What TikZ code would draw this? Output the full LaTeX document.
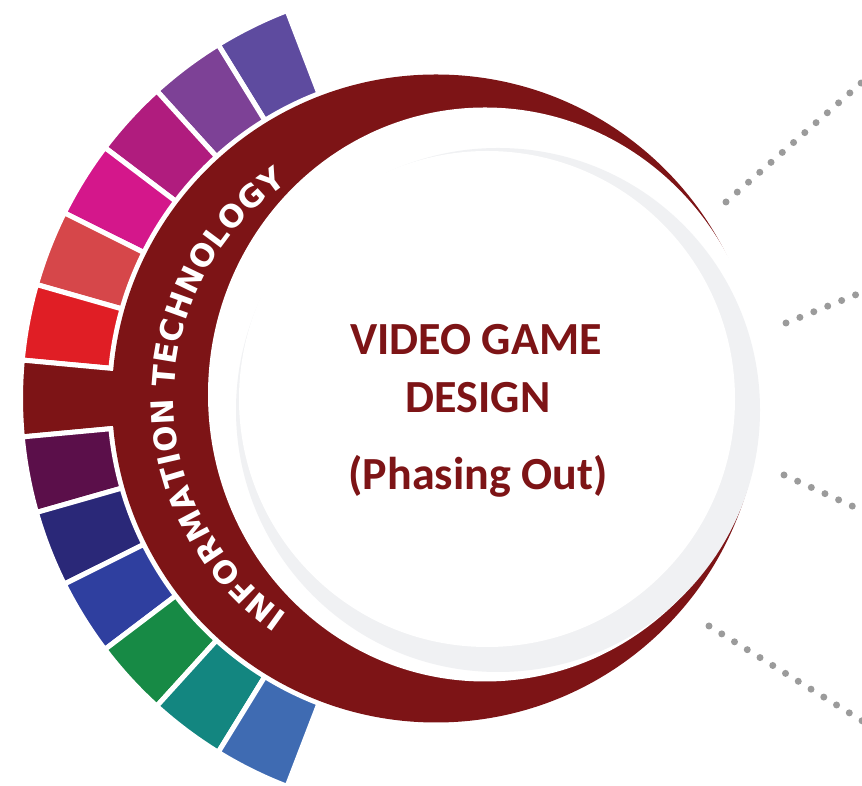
\documentclass[tikz,border=0pt]{standalone}
\usepackage{fontspec}
\newfontfamily\ringfont{DejaVu Sans}
\newfontfamily\titlefont{Carlito}
\newcommand\ringstyle{\ringfont\bfseries\fontsize{31}{31}\selectfont}

\definecolor{ringred}{HTML}{7D1416}
\definecolor{rimgray}{HTML}{F0F1F3}
\definecolor{dotgray}{HTML}{9B9B9B}
\definecolor{segA}{HTML}{5E4B9F}
\definecolor{segB}{HTML}{7D4196}
\definecolor{segC}{HTML}{B01C7E}
\definecolor{segD}{HTML}{D4178B}
\definecolor{segE}{HTML}{D6474A}
\definecolor{segF}{HTML}{E01E25}
\definecolor{segG}{HTML}{7D1416}
\definecolor{segH}{HTML}{5B0F4A}
\definecolor{segI}{HTML}{2A2878}
\definecolor{segJ}{HTML}{2F3F9F}
\definecolor{segK}{HTML}{178A45}
\definecolor{segL}{HTML}{138680}
\definecolor{segM}{HTML}{3F6BB2}

\tikzset{
  segment/.style={fill=#1, draw=white, line width=5pt},
  dots/.style={draw=dotgray, line width=7pt, line cap=round, dash pattern=on 0pt off 15pt},
  title/.style={text=ringred, anchor=base, font=\titlefont\bfseries\fontsize{46}{50}\selectfont},
  ringchar/.style={text=white, anchor=base, inner sep=0pt, font=\ringstyle},
}

\begin{document}
\begin{tikzpicture}[x=1pt, y=1pt]
\useasboundingbox (0,0) rectangle (862,786);
\clip (0,0) rectangle (862,786);

\coordinate (ctr) at (436,387.5);
\coordinate (cut) at (485,391.5);
\coordinate (rim) at (498,376);
\coordinate (core) at (487,387);

% coloured blocks round the ring
\begin{scope}[shift={(ctr)}]
\foreach \c [count=\i from 0] in {segA,segB,segC,segD,segE,segF,segG,segH,segI,segJ,segK,segL,segM} {
  \pgfmathsetmacro\a{111+\i*138/13}
  \pgfmathsetmacro\b{\a+138/13}
  \pgfmathsetmacro\r{\i==6 ? 290 : 326.5}
  \filldraw[segment=\c] (\a:\r) arc[start angle=\a, end angle=\b, radius=\r]
    -- (\b:415.5) arc[start angle=\b, end angle=\a, radius=415.5] -- cycle;
}
\end{scope}

% ring and disc
\fill[ringred] (ctr) circle[radius=324];
\fill[white] (cut) ellipse[x radius=277, y radius=287];
\fill[rimgray] (rim) circle[radius=262];
\fill[white] (core) circle[radius=248];

% ring lettering: char / width in em / space after it in em
\def\ringletters{I/.372/0,N/.837/0,F/.683/0,O/.850/0,R/.770/0,M/.995/0,A/.774/0,T/.682/0,I/.372/0,O/.850/0,N/.837/.348,
  T/.682/0,E/.683/0,C/.734/0,H/.837/0,N/.837/0,O/.850/0,L/.637/0,O/.850/0,G/.821/0,Y/.724/0}
\gdef\ringlen{0}
\foreach \ch/\w/\x in \ringletters {
  \pgfmathsetmacro\cnext{\ringlen+(\w+\x)*31}
  \xdef\ringlen{\cnext}
}
\pgfmathsetmacro\track{(507-\ringlen)/20}
\gdef\ringpos{0}
\foreach \ch/\w/\x [count=\k] in \ringletters {
  \pgfmathsetmacro\cang{235.5-deg((\ringpos+\w*15.5)/262)}
  \pgfmathsetmacro\cnext{\ringpos+(\w+\x)*31+\track}
  \node[ringchar, rotate=\cang-90] (rc\k) at ([shift={(\cang:262)}]ctr) {\ch};
  \xdef\ringpos{\cnext}
}

\node[title] (vg) at (476,431) {VIDEO GAME};
\node[title] (dsg) at (478,373) {DESIGN};
\node[title] (phase) at (478,296) {(Phasing Out)};

% dotted leads
\coordinate (d1a) at (726,584);
\coordinate (d1b) at (885,724);
\coordinate (d2a) at (786,463);
\coordinate (d2b) at (885,503);
\coordinate (d3a) at (784,311);
\coordinate (d3b) at (885,265);
\coordinate (d4a) at (709,160);
\coordinate (d4b) at (885,51);
\draw[dots] (d1a) -- (d1b);
\draw[dots] (d2a) -- (d2b);
\draw[dots] (d3a) -- (d3b);
\draw[dots] (d4a) -- (d4b);

\end{tikzpicture}
\end{document}
